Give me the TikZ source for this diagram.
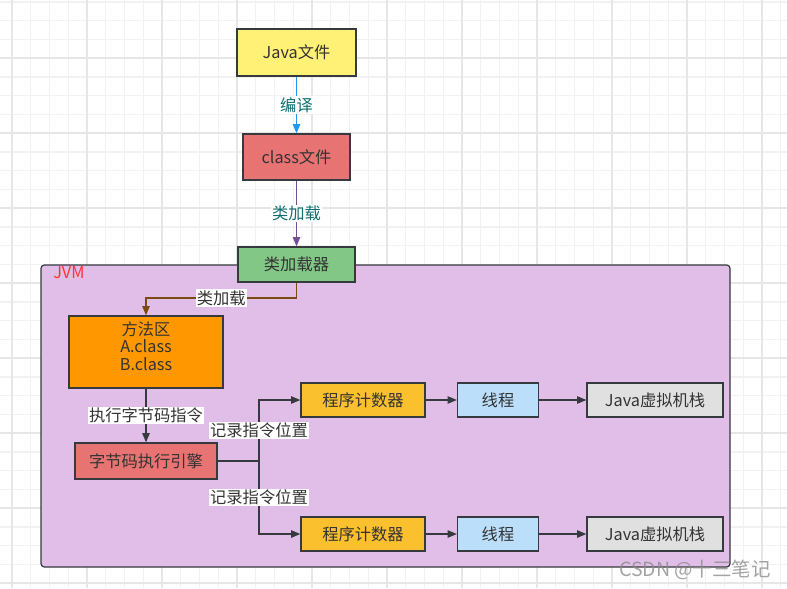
\documentclass[tikz,border=0pt]{standalone}
\usepackage{fontspec}
\setmainfont{Noto Sans CJK SC}
\usetikzlibrary{arrows.meta}
\definecolor{gridminor}{HTML}{F2F2F2}
\definecolor{gridmajor}{HTML}{E6E6E6}
\definecolor{cyellow}{HTML}{FFF176}
\definecolor{cred}{HTML}{E77372}
\definecolor{cgreen}{HTML}{82C785}
\definecolor{cjvm}{HTML}{E1BEE7}
\definecolor{corange}{HTML}{FF9800}
\definecolor{cpc}{HTML}{FBC02D}
\definecolor{cthread}{HTML}{BBDEFB}
\definecolor{cstack}{HTML}{E0E0E0}
\definecolor{cborder}{HTML}{36393D}
\definecolor{cblue}{HTML}{2196F3}
\definecolor{cpurple}{HTML}{734F96}
\definecolor{cbrown}{HTML}{7A4A12}
\definecolor{cteal}{HTML}{0D6E6E}
\definecolor{cjvmtext}{HTML}{FF3333}
\definecolor{ctext}{HTML}{333333}
\begin{document}
\begin{tikzpicture}[x=0.75pt,y=-0.75pt,
  font=\fontsize{12.2}{14}\selectfont,
  box/.style={draw=cborder, line width=0.9pt, inner sep=0pt, text=ctext},
  sz/.style 2 args={minimum width=#1*0.75pt, minimum height=#2*0.75pt},
  conn/.style={line width=1.1pt, -{Triangle[length=7pt,width=5.5pt]}},
  lbl/.style={fill=white, inner sep=1pt, text=ctext},
  tlbl/.style={fill=white, inner sep=1pt, text=cteal}]
\useasboundingbox (0,0) rectangle (787,588);
\fill[white] (0,0) rectangle (787,588);
\foreach \i in {0,...,42} {
  \draw[gridminor, line width=0.8pt] ({12+18.75*(\i-1)},0) -- ({12+18.75*(\i-1)},588);
  \draw[gridminor, line width=0.8pt] (0,{2+18.75*(\i-1)}) -- (787,{2+18.75*(\i-1)});
}
\foreach \i in {0,...,11} {
  \draw[gridmajor, line width=0.8pt] ({12+75*\i},0) -- ({12+75*\i},588);
  \draw[gridmajor, line width=0.8pt] (0,{-17+75*\i}) -- (787,{-17+75*\i});
}
% JVM container
\draw[fill=cjvm, draw=cborder, line width=0.9pt, rounded corners=2.5pt] (41,265) rectangle (730,567);
\node[text=cjvmtext, anchor=west, inner sep=0pt] (jvm) at (53,273) {JVM};
% nodes
\node[box, fill=cyellow, sz={119}{47}] (java) at (296.5,52.5) {Java文件};
\node[box, fill=cred, sz={107}{46}] (cls) at (296.5,157) {class文件};
\node[box, fill=cgreen, sz={117}{35}] (loader) at (296.5,264.5) {类加载器};
\node[box, fill=corange, sz={154}{72}] (fa) at (146,352) {};
\node[text=ctext, align=center, inner sep=0pt] (fatext) at (146,346) {方法区\\[-1pt]A.class\\[-1pt]B.class};
\node[box, fill=cred, sz={142}{36}] (engine) at (146,461) {字节码执行引擎};
\node[box, fill=cpc, sz={124}{34}] (pc1) at (363,400) {程序计数器};
\node[box, fill=cthread, sz={81}{34}] (th1) at (498,400) {线程};
\node[box, fill=cstack, sz={136}{34}] (st1) at (655,400) {Java虚拟机栈};
\node[box, fill=cpc, sz={124}{34}] (pc2) at (363,534) {程序计数器};
\node[box, fill=cthread, sz={81}{34}] (th2) at (498,534) {线程};
\node[box, fill=cstack, sz={136}{34}] (st2) at (655,534) {Java虚拟机栈};
% connectors
\draw[conn, cblue] (java) -- node[tlbl] {编译} (cls);
\draw[conn, cpurple] (cls) -- node[tlbl] {类加载} (loader);
\coordinate (lA) at (296.5,298);
\coordinate (lB) at (146,298);
\draw[conn, cbrown] (loader.south) -- (lA) -- node[lbl] {类加载} (lB) -- (fa.north);
\draw[conn, cborder] (fa) -- node[lbl] {执行字节码指令} (engine);
\coordinate (bj) at (259,461);
\coordinate (bu) at (259,400);
\coordinate (bd) at (259,534);
\draw[conn, cborder] (engine.east) -- (bj) -- node[lbl] {记录指令位置} (bu) -- (pc1.west);
\draw[conn, cborder] (bj) -- node[lbl] {记录指令位置} (bd) -- (pc2.west);
\draw[conn, cborder] (pc1) -- (th1);
\draw[conn, cborder] (th1) -- (st1);
\draw[conn, cborder] (pc2) -- (th2);
\draw[conn, cborder] (th2) -- (st2);
% watermark
\node[text=black!45, opacity=0.8, inner sep=0pt, font=\fontsize{14.6}{16}\selectfont] (wm) at (695,570) {CSDN @十三笔记};
\end{tikzpicture}
\end{document}
